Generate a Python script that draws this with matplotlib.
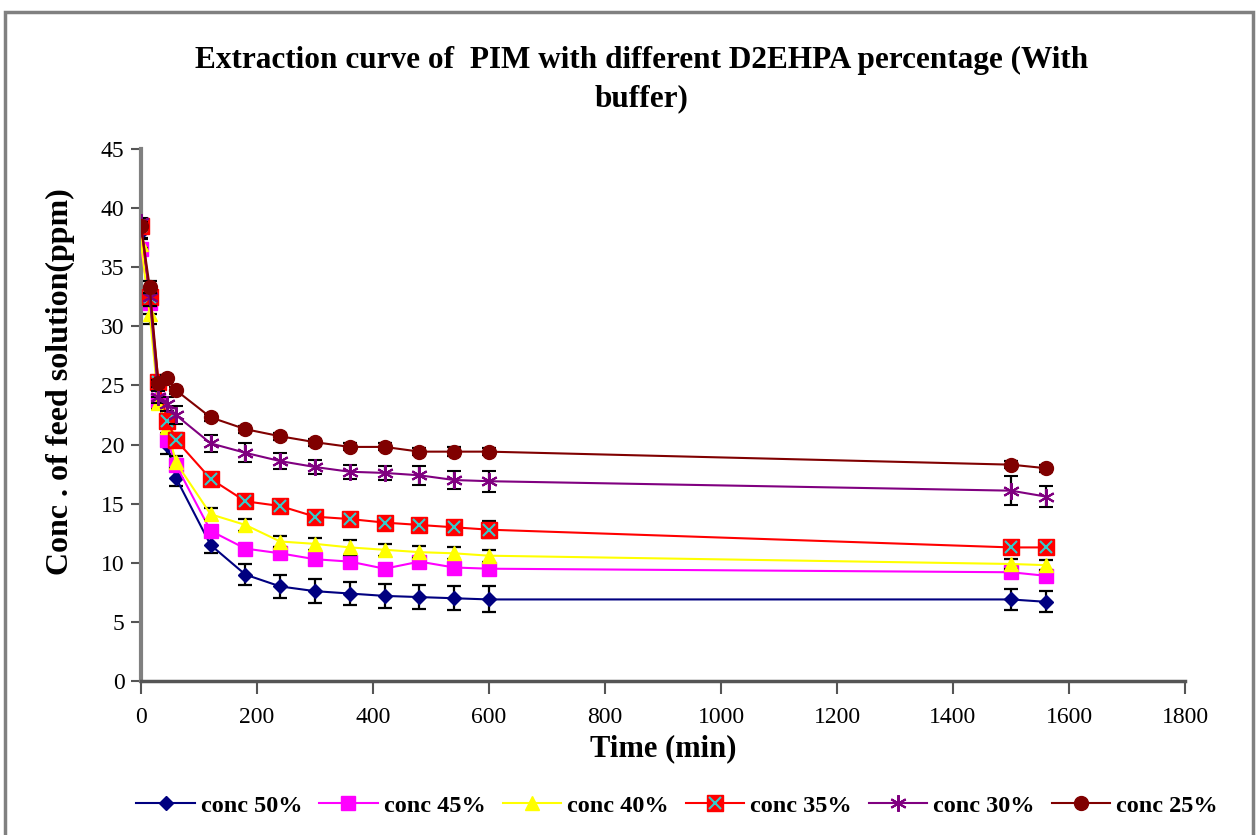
import matplotlib
matplotlib.use("Agg")
import matplotlib.pyplot as plt
from matplotlib.patches import Rectangle
from matplotlib.legend_handler import HandlerTuple
import numpy as np

plt.rcParams['font.family'] = ['Liberation Serif', 'DejaVu Serif']

# sampling times (min)
time = [0, 15, 30, 45, 60, 120, 180, 240, 300, 360, 420, 480, 540, 600, 1500, 1560]

c50 = [38.0, 32.0, 24.0, 20.0, 17.2, 11.5, 9.0, 8.0, 7.6, 7.4, 7.2, 7.1, 7.0, 6.9, 6.9, 6.7]
c45 = [36.5, 32.0, 23.8, 20.4, 18.3, 12.7, 11.2, 10.8, 10.3, 10.1, 9.5, 10.1, 9.6, 9.5, 9.2, 8.9]
c40 = [37.0, 31.0, 23.5, 21.5, 18.5, 14.1, 13.2, 11.8, 11.6, 11.3, 11.1, 10.9, 10.8, 10.6, 9.9, 9.8]
c35 = [38.5, 32.5, 25.3, 22.0, 20.4, 17.1, 15.2, 14.8, 13.9, 13.7, 13.4, 13.2, 13.0, 12.8, 11.3, 11.3]
c30 = [38.8, 32.5, 24.0, 23.4, 22.5, 20.1, 19.3, 18.6, 18.1, 17.7, 17.6, 17.4, 17.0, 16.9, 16.1, 15.6]
c25 = [38.5, 33.3, 25.2, 25.6, 24.6, 22.3, 21.3, 20.7, 20.2, 19.8, 19.8, 19.4, 19.4, 19.4, 18.3, 18.0]

e50 = [0.5, 1.0, 0.8, 0.8, 0.7, 0.7, 0.9, 1.0, 1.0, 1.0, 1.0, 1.0, 1.0, 1.1, 0.9, 0.9]
e45 = [0.3, 0.5, 0.4, 0.4, 0.4, 0.3, 0.3, 0.3, 0.3, 0.3, 0.3, 0.3, 0.3, 0.3, 0.3, 0.3]
e40 = [0.4, 0.8, 0.5, 0.5, 0.5, 0.5, 0.5, 0.5, 0.5, 0.6, 0.5, 0.5, 0.5, 0.5, 0.4, 0.4]
e35 = [0.4, 0.8, 0.5, 0.6, 0.6, 0.4, 0.5, 0.5, 0.4, 0.4, 0.4, 0.4, 0.4, 0.7, 0.3, 0.3]
e30 = [0.4, 0.8, 0.5, 0.6, 0.8, 0.7, 0.8, 0.7, 0.6, 0.6, 0.6, 0.8, 0.8, 0.9, 1.2, 0.9]
e25 = [0.3, 0.5, 0.3, 0.3, 0.3, 0.3, 0.3, 0.3, 0.3, 0.3, 0.3, 0.3, 0.4, 0.3, 0.3, 0.3]

labels = ['conc 50%', 'conc 45%', 'conc 40%', 'conc 35%', 'conc 30%', 'conc 25%']

fig = plt.figure(figsize=(12.56, 8.35), dpi=100)
ax = fig.add_axes([0.1123, 0.1844, 0.8312, 0.6372])

# outer chart frame
fig.patches.append(Rectangle((5 / 1256, -0.05), 1248 / 1256, 1.05 - 12 / 835,
                             transform=fig.transFigure, fill=False,
                             edgecolor='#808080', linewidth=2.5))

eb = dict(ecolor='black', elinewidth=1.6, capsize=5, capthick=1.6)

h50 = ax.errorbar(time, c50, yerr=e50, color='#000080', marker='D', ms=7,
                  mfc='#000080', mec='#000080', lw=1.5, zorder=3, **eb)
h45 = ax.errorbar(time, c45, yerr=e45, color='#FF00FF', marker='s', ms=10,
                  mfc='#FF00FF', mec='#FF00FF', lw=1.5, zorder=4, **eb)
h40 = ax.errorbar(time, c40, yerr=e40, color='#FFFF00', marker='^', ms=10,
                  mfc='#FFFF00', mec='#FFFF00', lw=1.5, zorder=5, **eb)
h35 = ax.errorbar(time, c35, yerr=e35, color='#FF0000', marker='s', ms=11,
                  mfc='#FF0000', mec='#FF0000', lw=1.5, zorder=6, **eb)
x35, = ax.plot(time, c35, ls='none', marker='x', ms=9, mew=1.5, color='#33CCCC', zorder=6.5)
h30 = ax.errorbar(time, c30, yerr=e30, color='#800080', marker=(6, 2, 0), ms=12,
                  mew=1.5, mec='#800080', lw=1.5, zorder=7, **eb)
h25 = ax.errorbar(time, c25, yerr=e25, color='#800000', marker='o', ms=10,
                  mfc='#800000', mec='#800000', lw=1.5, zorder=8, **eb)

ax.set_xlim(0, 1800)
ax.set_ylim(0, 45)
ax.set_xticks(np.arange(0, 1801, 200))
ax.set_yticks(np.arange(0, 46, 5))
ax.tick_params(labelsize=17, direction='out', width=1.5, color='#555555')
ax.tick_params(axis='x', length=9, pad=10)
ax.tick_params(axis='y', length=7, pad=5)
for side in ['top', 'right']:
    ax.spines[side].set_visible(False)
ax.spines['left'].set_color('#808080')
ax.spines['left'].set_linewidth(3)
ax.spines['bottom'].set_color('#555555')
ax.spines['bottom'].set_linewidth(2.5)

ax.set_xlabel('Time (min)', fontsize=22, fontweight='bold', labelpad=4)
ax.set_ylabel('Conc . of feed solution(ppm)', fontsize=23, fontweight='bold')
ax.yaxis.set_label_coords(-0.063, 0.562)
fig.text(0.511, 0.905, 'Extraction curve of  PIM with different D2EHPA percentage (With\nbuffer)',
         ha='center', va='center', fontsize=22.5, fontweight='bold', linespacing=1.4)

handles = [h50[0], h45[0], h40[0], (h35[0], x35), h30[0], h25[0]]
fig.legend(handles, labels, loc='center', bbox_to_anchor=(0.539, 0.035), ncol=6,
           frameon=False, prop=dict(size=17.5, weight='bold'), handlelength=2.4,
           columnspacing=0.7, handletextpad=0.25,
           handler_map={tuple: HandlerTuple(ndivide=1)})

fig.savefig('out.png', dpi=100)
